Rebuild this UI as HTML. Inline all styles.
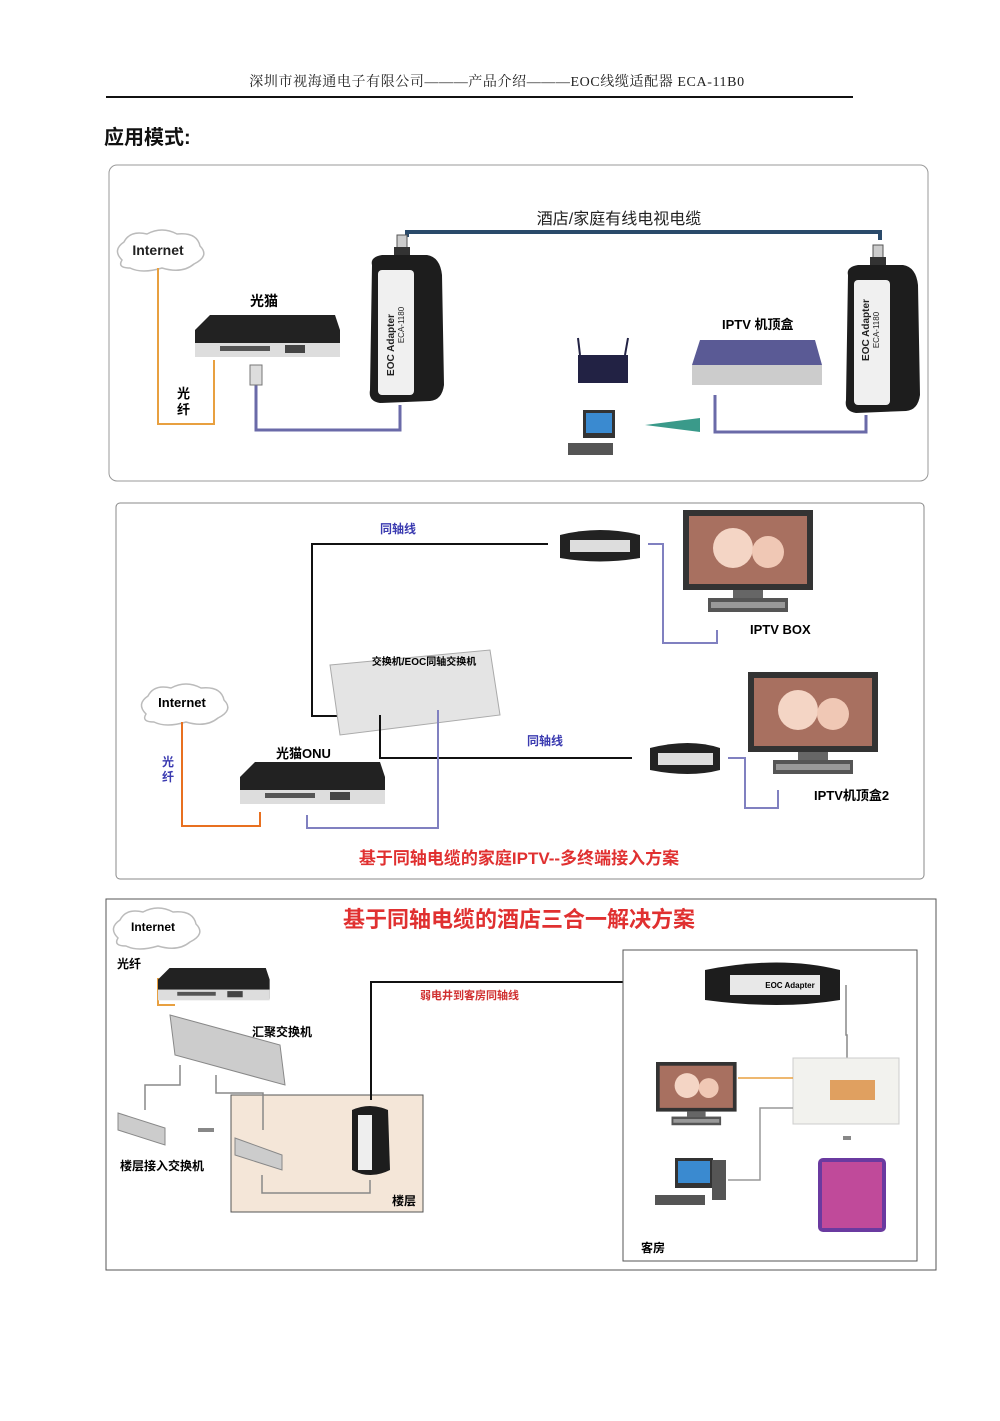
<!DOCTYPE html>
<html><head><meta charset="utf-8"><style>
html,body{margin:0;padding:0;background:#fff;}
svg{display:block;font-family:"Liberation Sans","Noto Sans CJK SC",sans-serif;}
</style></head><body>
<svg width="1000" height="1421" viewBox="0 0 1000 1421" xmlns="http://www.w3.org/2000/svg">
<defs>
<g id="adV">
 <rect x="-5" y="-30" width="10" height="14" fill="#ccc" stroke="#555"/>
 <rect x="-8" y="-18" width="16" height="14" fill="#333"/>
 <path d="M-30 0 Q-32 -8 -20 -10 L25 -10 Q38 -8 40 10 L42 120 Q40 135 28 136 L-22 138 Q-34 136 -32 125 Z" fill="#1d1d1d"/>
 <rect x="-24" y="5" width="36" height="125" rx="4" fill="#f0f0f0"/>
</g>
<g id="router">
 <path d="M0 15 L15 0 L140 0 L145 15 L145 40 L0 40 Z" fill="#222"/>
 <rect x="0" y="28" width="145" height="14" fill="#ddd"/>
 <rect x="25" y="31" width="50" height="5" fill="#555"/>
 <rect x="90" y="30" width="20" height="8" fill="#444"/>
</g>
<g id="tv">
 <rect x="0" y="0" width="130" height="80" fill="#333"/>
 <rect x="6" y="6" width="118" height="68" fill="#a87060"/>
 <circle cx="50" cy="38" r="20" fill="#f4d5c5"/>
 <circle cx="85" cy="42" r="16" fill="#f0c8b5"/>
 <rect x="50" y="80" width="30" height="8" fill="#666"/>
 <rect x="25" y="88" width="80" height="14" fill="#555"/>
 <rect x="28" y="92" width="74" height="6" fill="#999"/>
</g>
<g id="cloud">
 <path d="M10 30 Q0 20 12 12 Q18 0 35 4 Q50 -4 65 4 Q85 2 88 16 Q98 26 82 34 Q70 44 50 38 Q30 44 18 38 Q5 38 10 30 Z" fill="#fff" stroke="#bbb" stroke-width="1.5"/>
</g>
</defs>

<text x="497" y="86" text-anchor="middle" font-size="14" letter-spacing="0.6" fill="#222" font-family="Liberation Serif,Noto Serif CJK SC,serif">深圳市视海通电子有限公司———产品介绍———EOC线缆适配器 ECA-11B0</text>
<line x1="106" y1="97" x2="853" y2="97" stroke="#111" stroke-width="2"/>
<text x="104" y="144" font-size="20" font-weight="bold" fill="#111">应用模式:</text>

<!-- Panel 1 -->
<rect x="109" y="165" width="819" height="316" rx="8" fill="#fff" stroke="#999"/>
<use href="#cloud" x="112" y="230"/>
<text x="158" y="255" text-anchor="middle" font-size="14" font-weight="bold" fill="#222">Internet</text>
<path d="M158 268 V424 H214 V360" fill="none" stroke="#e8a040" stroke-width="2"/>
<text x="177" y="398" font-size="13" font-weight="bold">光</text>
<text x="177" y="414" font-size="13" font-weight="bold">纤</text>
<text x="250" y="306" font-size="14" font-weight="bold">光猫</text>
<use href="#router" x="195" y="315"/>
<path d="M256 385 V430 H400 V405" fill="none" stroke="#6a6aa8" stroke-width="3"/>
<rect x="250" y="365" width="12" height="20" fill="#ddd" stroke="#777"/>
<path d="M407 237 V232 H880 V240" fill="none" stroke="#2a4a6a" stroke-width="4"/>
<text x="619" y="224" text-anchor="middle" font-size="16" fill="#222">酒店/家庭有线电视电缆</text>
<use href="#adV" x="402" y="265"/>
<text transform="translate(394,345) rotate(-90)" text-anchor="middle" font-size="10" font-weight="bold" fill="#222">EOC Adapter</text>
<text transform="translate(404,325) rotate(-90)" text-anchor="middle" font-size="8" fill="#222">ECA-1180</text>
<use href="#adV" x="878" y="275"/>
<text transform="translate(869,330) rotate(-90)" text-anchor="middle" font-size="10" font-weight="bold" fill="#222">EOC Adapter</text>
<text transform="translate(879,330) rotate(-90)" text-anchor="middle" font-size="8" fill="#222">ECA-1180</text>
<text x="722" y="329" font-size="13" font-weight="bold">IPTV 机顶盒</text>
<path d="M700 340 H815 L822 365 L822 385 L692 385 L692 365 Z" fill="#5a5a95"/>
<rect x="692" y="365" width="130" height="20" fill="#ccc"/>
<path d="M715 395 V432 H866 V415" fill="none" stroke="#6a6aa8" stroke-width="3"/>
<rect x="578" y="355" width="50" height="28" fill="#224" />
<line x1="580" y1="355" x2="578" y2="338" stroke="#224" stroke-width="2"/>
<line x1="625" y1="355" x2="628" y2="338" stroke="#224" stroke-width="2"/>
<rect x="583" y="410" width="32" height="28" fill="#333"/><rect x="586" y="413" width="26" height="20" fill="#3a8ad0"/>
<rect x="568" y="443" width="45" height="12" fill="#555"/>
<path d="M645 425 L700 418 L700 432 Z" fill="#3a9a8a"/>

<!-- Panel 2 -->
<rect x="116" y="503" width="808" height="376" rx="4" fill="#fff" stroke="#888"/>
<path d="M348 716 H312 V544 H548" fill="none" stroke="#111" stroke-width="2"/>
<text x="380" y="533" font-size="12" font-weight="bold" fill="#3a3ab0">同轴线</text>
<path d="M560 535 Q600 525 640 535 L640 558 Q600 565 560 558 Z" fill="#222"/>
<rect x="570" y="540" width="60" height="12" fill="#ddd"/>
<path d="M648 544 H663 V643 H717 V630" fill="none" stroke="#8080c0" stroke-width="2"/>
<use href="#tv" x="683" y="510"/>
<text x="750" y="634" font-size="13" font-weight="bold">IPTV BOX</text>
<path d="M330 665 L490 650 L500 715 L340 735 Z" fill="#e4e4e4" stroke="#aaa"/>
<text x="424" y="665" text-anchor="middle" font-size="10" font-weight="bold">交换机/EOC同轴交换机</text>
<path d="M380 715 V758 H632" fill="none" stroke="#111" stroke-width="2"/>
<text x="527" y="745" font-size="12" font-weight="bold" fill="#3a3ab0">同轴线</text>
<path d="M650 748 Q690 738 720 748 L720 770 Q690 778 650 770 Z" fill="#222"/>
<rect x="658" y="753" width="55" height="12" fill="#ddd"/>
<path d="M728 758 H745 V808 H778 V790" fill="none" stroke="#8080c0" stroke-width="2"/>
<use href="#tv" x="748" y="672"/>
<text x="814" y="800" font-size="13" font-weight="bold">IPTV机顶盒2</text>
<use href="#cloud" x="136" y="684"/>
<text x="182" y="707" text-anchor="middle" font-size="13" font-weight="bold">Internet</text>
<path d="M182 722 V826 H260 V812" fill="none" stroke="#e87020" stroke-width="2"/>
<text x="162" y="766" font-size="12" font-weight="bold" fill="#3a3ab0">光</text>
<text x="162" y="781" font-size="12" font-weight="bold" fill="#3a3ab0">纤</text>
<text x="276" y="758" font-size="13" font-weight="bold">光猫ONU</text>
<use href="#router" x="240" y="762"/>
<path d="M307 815 V828 H438 V710" fill="none" stroke="#8080c0" stroke-width="2"/>
<text x="519" y="864" text-anchor="middle" font-size="17" font-weight="bold" fill="#e03030">基于同轴电缆的家庭IPTV--多终端接入方案</text>

<!-- Panel 3 -->
<rect x="106" y="899" width="830" height="371" fill="#fff" stroke="#555"/>
<text x="519" y="927" text-anchor="middle" font-size="22" font-weight="bold" fill="#e03030">基于同轴电缆的酒店三合一解决方案</text>
<use href="#cloud" x="108" y="908"/>
<text x="153" y="931" text-anchor="middle" font-size="12" font-weight="bold">Internet</text>
<text x="117" y="968" font-size="12" font-weight="bold">光纤</text>
<path d="M158 978 V1005 H175" fill="none" stroke="#e8a040" stroke-width="2"/>
<use href="#router" x="158" y="968" transform="translate(158,968) scale(0.77) translate(-158,-968)"/>
<path d="M170 1015 L280 1045 L285 1085 L175 1055 Z" fill="#ccc" stroke="#888"/>
<text x="252" y="1036" font-size="12" font-weight="bold">汇聚交换机</text>
<path d="M180 1065 V1085 H145 V1110" fill="none" stroke="#888" stroke-width="1.5"/>
<path d="M118 1113 L165 1128 L165 1145 L118 1130 Z" fill="#ccc" stroke="#888"/>
<text x="120" y="1170" font-size="12" font-weight="bold">楼层接入交换机</text>
<rect x="198" y="1128" width="16" height="4" fill="#888"/>
<rect x="231" y="1095" width="192" height="117" fill="#f4e6d8" stroke="#555"/>
<path d="M216 1075 V1093 H263 V1130" fill="none" stroke="#888" stroke-width="1.5"/>
<path d="M235 1138 L282 1155 L282 1170 L235 1155 Z" fill="#ccc" stroke="#888"/>
<path d="M262 1175 V1193 H370 V1180" fill="none" stroke="#888" stroke-width="1.5"/>
<path d="M371 1100 V982 H698" fill="none" stroke="#111" stroke-width="2"/>
<text x="420" y="999" font-size="11" font-weight="bold" fill="#d03030">弱电井到客房同轴线</text>
<path d="M352 1110 Q370 1102 388 1110 L390 1170 Q370 1180 352 1170 Z" fill="#1d1d1d"/>
<rect x="358" y="1115" width="14" height="55" fill="#eee"/>
<text x="392" y="1205" font-size="12" font-weight="bold">楼层</text>
<rect x="623" y="950" width="294" height="311" fill="#fff" stroke="#555"/>
<path d="M705 970 Q780 955 840 970 L840 1000 Q780 1010 705 1000 Z" fill="#1d1d1d"/>
<rect x="730" y="975" width="90" height="20" fill="#e8e8e8"/>
<text x="790" y="988" text-anchor="middle" font-size="8" font-weight="bold">EOC Adapter</text>
<path d="M846 985 V1035 H847 V1058" fill="none" stroke="#888" stroke-width="1.5"/>
<rect x="793" y="1058" width="106" height="66" fill="#f2f2ee" stroke="#ccc"/>
<rect x="830" y="1080" width="45" height="20" fill="#e0a060"/>
<use href="#tv" x="656" y="1062" transform="translate(656,1062) scale(0.62) translate(-656,-1062)"/>
<path d="M738 1078 H793" fill="none" stroke="#e8a040" stroke-width="1.5"/>
<path d="M728 1180 H760 V1108 H793" fill="none" stroke="#999" stroke-width="1.5"/>
<rect x="675" y="1158" width="38" height="30" fill="#333"/><rect x="678" y="1161" width="32" height="22" fill="#3a8ad0"/>
<rect x="712" y="1160" width="14" height="40" fill="#555"/>
<rect x="655" y="1195" width="50" height="10" fill="#555"/>
<rect x="818" y="1158" width="68" height="74" rx="5" fill="#6a3aa0"/>
<rect x="822" y="1162" width="60" height="66" fill="#c04a9a"/>
<rect x="843" y="1136" width="8" height="4" fill="#888"/>
<text x="641" y="1252" font-size="12" font-weight="bold">客房</text>
</svg>
</body></html>
